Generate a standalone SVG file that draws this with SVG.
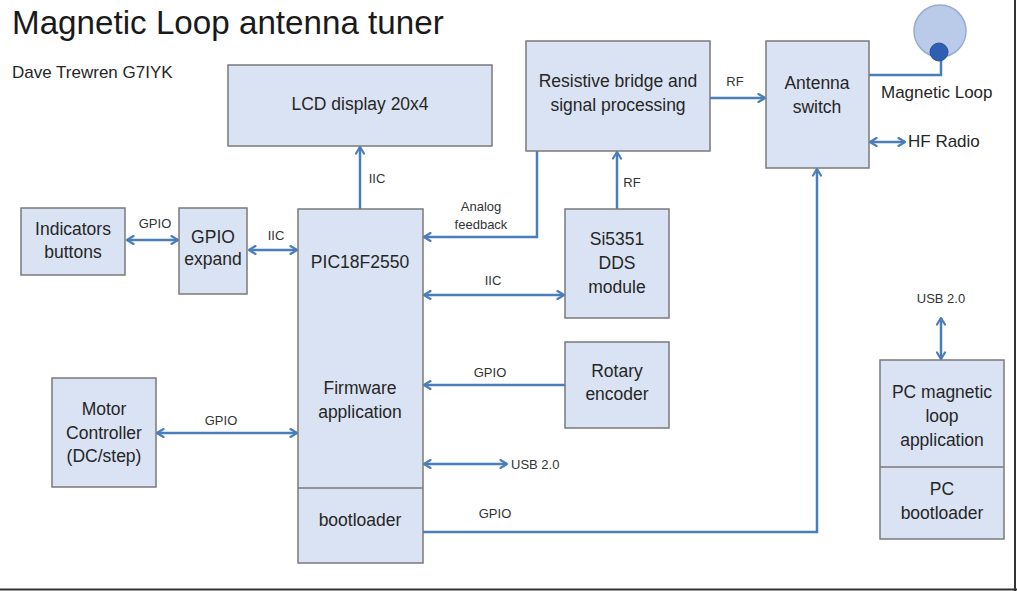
<svg xmlns="http://www.w3.org/2000/svg" width="1017" height="591" viewBox="0 0 1017 591">
<style>
.box{fill:#dae3f3;stroke:#7a7a7a;stroke-width:1.5}
.t{font-family:"Liberation Sans",Arial,sans-serif;font-size:17.5px;fill:#262626;text-anchor:middle}
.s{font-family:"Liberation Sans",Arial,sans-serif;font-size:13px;fill:#333333;text-anchor:middle}
.c{fill:none;stroke:#4a7ebb;stroke-width:2.5}
</style>
<defs>
<marker id="ah" viewBox="0 0 10 10" markerWidth="10" markerHeight="10" refX="8.5" refY="5" orient="auto-start-reverse" markerUnits="userSpaceOnUse">
<path d="M2,1 L8.5,5 L2,9" fill="none" stroke="#4a7ebb" stroke-width="2.2" stroke-linecap="round" stroke-linejoin="round"/>
</marker>
</defs>
<rect width="1017" height="591" fill="#ffffff"/>
<line x1="0" y1="589.5" x2="1017" y2="589.5" stroke="#333333" stroke-width="2"/>
<line x1="1015" y1="0" x2="1015" y2="591" stroke="#333333" stroke-width="2"/>
<text x="12" y="34" font-family="'Liberation Sans',Arial,sans-serif" font-size="33.2" fill="#1a1a1a">Magnetic Loop antenna tuner</text>
<text x="12" y="78" font-family="'Liberation Sans',Arial,sans-serif" font-size="17" fill="#262626">Dave Trewren G7IYK</text>

<g id="connectors">
<line class="c" x1="360" y1="209" x2="360" y2="147" marker-end="url(#ah)"/>
<text class="s" x="377" y="183">IIC</text>
<line class="c" x1="127" y1="240" x2="178" y2="240" marker-start="url(#ah)" marker-end="url(#ah)"/>
<text class="s" x="155" y="228">GPIO</text>
<line class="c" x1="249" y1="250" x2="297" y2="250" marker-start="url(#ah)" marker-end="url(#ah)"/>
<text class="s" x="276" y="240">IIC</text>
<path class="c" d="M537,151 V237 H424" marker-end="url(#ah)"/>
<text class="s" x="481" y="211">Analog</text>
<text class="s" x="481" y="229">feedback</text>
<line class="c" x1="424" y1="295" x2="564" y2="295" marker-start="url(#ah)" marker-end="url(#ah)"/>
<text class="s" x="493" y="285">IIC</text>
<line class="c" x1="617" y1="209" x2="617" y2="152" marker-end="url(#ah)"/>
<text class="s" x="632" y="187">RF</text>
<line class="c" x1="710" y1="98" x2="765" y2="98" marker-end="url(#ah)"/>
<text class="s" x="735" y="86">RF</text>
<line class="c" x1="565" y1="385" x2="424" y2="385" marker-end="url(#ah)"/>
<text class="s" x="490" y="377">GPIO</text>
<line class="c" x1="157" y1="433" x2="297" y2="433" marker-start="url(#ah)" marker-end="url(#ah)"/>
<text class="s" x="221" y="425">GPIO</text>
<line class="c" x1="424" y1="464" x2="507" y2="464" marker-start="url(#ah)" marker-end="url(#ah)"/>
<text class="s" x="511" y="469" style="text-anchor:start">USB 2.0</text>
<path class="c" d="M423,532 H817 V169" marker-end="url(#ah)"/>
<text class="s" x="495" y="518">GPIO</text>
<line class="c" x1="870" y1="142" x2="905" y2="142" marker-start="url(#ah)" marker-end="url(#ah)"/>
<path class="c" d="M869,75 H941 V60"/>
<line class="c" x1="941" y1="318" x2="941" y2="359" marker-start="url(#ah)" marker-end="url(#ah)"/>
<text class="s" x="941" y="303">USB 2.0</text>
</g>

<g id="lcd">
<rect class="box" x="228" y="65" width="264" height="81"/>
<text class="t" x="360" y="110">LCD display 20x4</text>
</g>
<g id="bridge">
<rect class="box" x="526" y="41" width="184" height="110"/>
<text class="t" x="618" y="87">Resistive bridge and</text>
<text class="t" x="618" y="111">signal processing</text>
</g>
<g id="antenna-switch">
<rect class="box" x="766" y="41" width="103" height="127"/>
<text class="t" x="817" y="89">Antenna</text>
<text class="t" x="817" y="113">switch</text>
</g>
<g id="magnetic-loop">
<circle cx="940" cy="31" r="26" fill="#b9cbe9" stroke="#97acd4" stroke-width="1.5"/>
<circle cx="939" cy="52" r="9" fill="#2f5fb3" stroke="#27509a" stroke-width="1"/>
<text x="881" y="98" font-family="'Liberation Sans',Arial,sans-serif" font-size="17" fill="#262626">Magnetic Loop</text>
</g>
<g id="hf-radio">
<text x="908" y="147" font-family="'Liberation Sans',Arial,sans-serif" font-size="17" fill="#262626">HF Radio</text>
</g>
<g id="indicators">
<rect class="box" x="21" y="208" width="104" height="67"/>
<text class="t" x="73" y="235">Indicators</text>
<text class="t" x="73" y="258">buttons</text>
</g>
<g id="gpio-expand">
<rect class="box" x="179" y="208" width="68" height="86"/>
<text class="t" x="213" y="243">GPIO</text>
<text class="t" x="213" y="265">expand</text>
</g>
<g id="pic">
<rect class="box" x="298" y="209" width="125" height="354"/>
<line x1="298" y1="488" x2="423" y2="488" stroke="#7a7a7a" stroke-width="1.5"/>
<text class="t" x="360" y="268">PIC18F2550</text>
<text class="t" x="360" y="394">Firmware</text>
<text class="t" x="360" y="418">application</text>
<text class="t" x="360" y="526">bootloader</text>
</g>
<g id="si5351">
<rect class="box" x="565" y="209" width="104" height="109"/>
<text class="t" x="617" y="245">Si5351</text>
<text class="t" x="617" y="269">DDS</text>
<text class="t" x="617" y="293">module</text>
</g>
<g id="rotary">
<rect class="box" x="565" y="342" width="104" height="86"/>
<text class="t" x="617" y="377">Rotary</text>
<text class="t" x="617" y="400">encoder</text>
</g>
<g id="motor">
<rect class="box" x="52" y="378" width="104" height="109"/>
<text class="t" x="104" y="415">Motor</text>
<text class="t" x="104" y="439">Controller</text>
<text class="t" x="104" y="462">(DC/step)</text>
</g>
<g id="pc">
<rect class="box" x="880" y="360" width="124" height="179"/>
<line x1="880" y1="467" x2="1004" y2="467" stroke="#7a7a7a" stroke-width="1.5"/>
<text class="t" x="942" y="398">PC magnetic</text>
<text class="t" x="942" y="422">loop</text>
<text class="t" x="942" y="446">application</text>
<text class="t" x="942" y="495">PC</text>
<text class="t" x="942" y="519">bootloader</text>
</g>
</svg>
